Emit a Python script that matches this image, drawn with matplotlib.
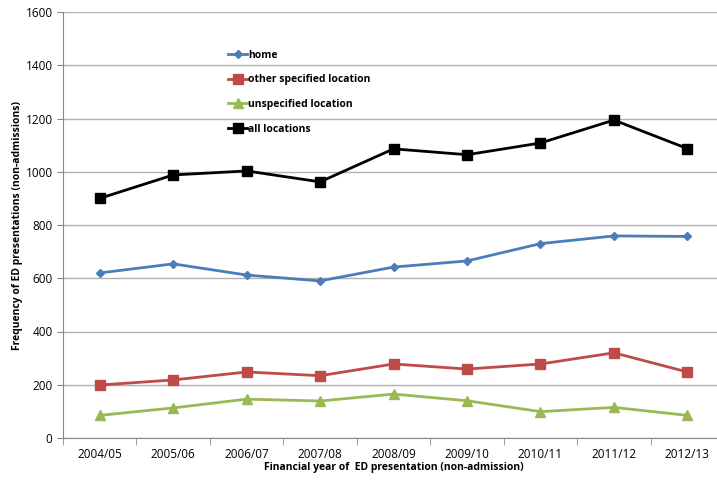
import numpy as np
import matplotlib.pyplot as plt
from matplotlib.ticker import FixedLocator

years = ["2004/05", "2005/06", "2006/07", "2007/08", "2008/09",
         "2009/10", "2010/11", "2011/12", "2012/13"]
home = [620, 654, 612, 590, 642, 665, 730, 759, 757]
other_loc = [199, 218, 248, 234, 278, 259, 278, 320, 248]
unspec_loc = [85, 113, 146, 139, 165, 140, 99, 115, 85]
all_loc = [900, 988, 1003, 962, 1086, 1064, 1108, 1194, 1087]

plt.rcParams['font.family'] = ['Open Sans', 'DejaVu Sans']

def main():
    fig = plt.figure(figsize=(7.17, 4.8), dpi=100)
    ax = fig.add_axes([0.0879, 0.0875, 0.922, 0.8875])
    x = np.arange(len(years))

    ax.plot(x, home, color="#4a7ebb", lw=2, marker="D", ms=4.5, label="home")
    ax.plot(x, other_loc, color="#be4b48", lw=2, marker="s", ms=7, label="other specified location")
    ax.plot(x, unspec_loc, color="#98b954", lw=2, marker="^", ms=7, label="unspecified location")
    ax.plot(x, all_loc, color="black", lw=2, marker="s", ms=7, label="all locations")

    ax.set_xlim(-0.5, len(years) - 0.5)
    ax.set_ylim(0, 1600)
    ax.set_yticks(range(0, 1601, 200))
    ax.set_xticks(x)
    ax.set_xticklabels(years)
    ax.xaxis.set_minor_locator(FixedLocator(np.arange(-0.5, len(years), 1)))
    ax.tick_params(axis="x", which="major", length=0, labelsize=8.5, pad=7)
    ax.tick_params(axis="x", which="minor", length=5, color="#888888")
    ax.tick_params(axis="y", length=4, color="#888888", labelsize=8.5)
    ax.grid(axis="y", color="#b0b0b0", lw=1)
    ax.set_axisbelow(True)
    for s in ["top", "right"]:
        ax.spines[s].set_visible(False)
    for s in ["left", "bottom"]:
        ax.spines[s].set_color("#888888")

    ax.set_ylabel("Frequency of ED presentations (non-admissions)", fontsize=7.5, fontweight="bold", labelpad=2)
    ax.set_xlabel("Financial year of  ED presentation (non-admission)", fontsize=7.5, fontweight="bold", labelpad=1)

    ax.legend(loc="upper left", bbox_to_anchor=(0.236, 0.933), frameon=False,
              handlelength=1.8, handletextpad=0.1, labelspacing=1.3,
              prop={"size": 7.5, "weight": "bold"})

    fig.savefig("out.png", dpi=100)

if __name__ == "__main__":
    main()
